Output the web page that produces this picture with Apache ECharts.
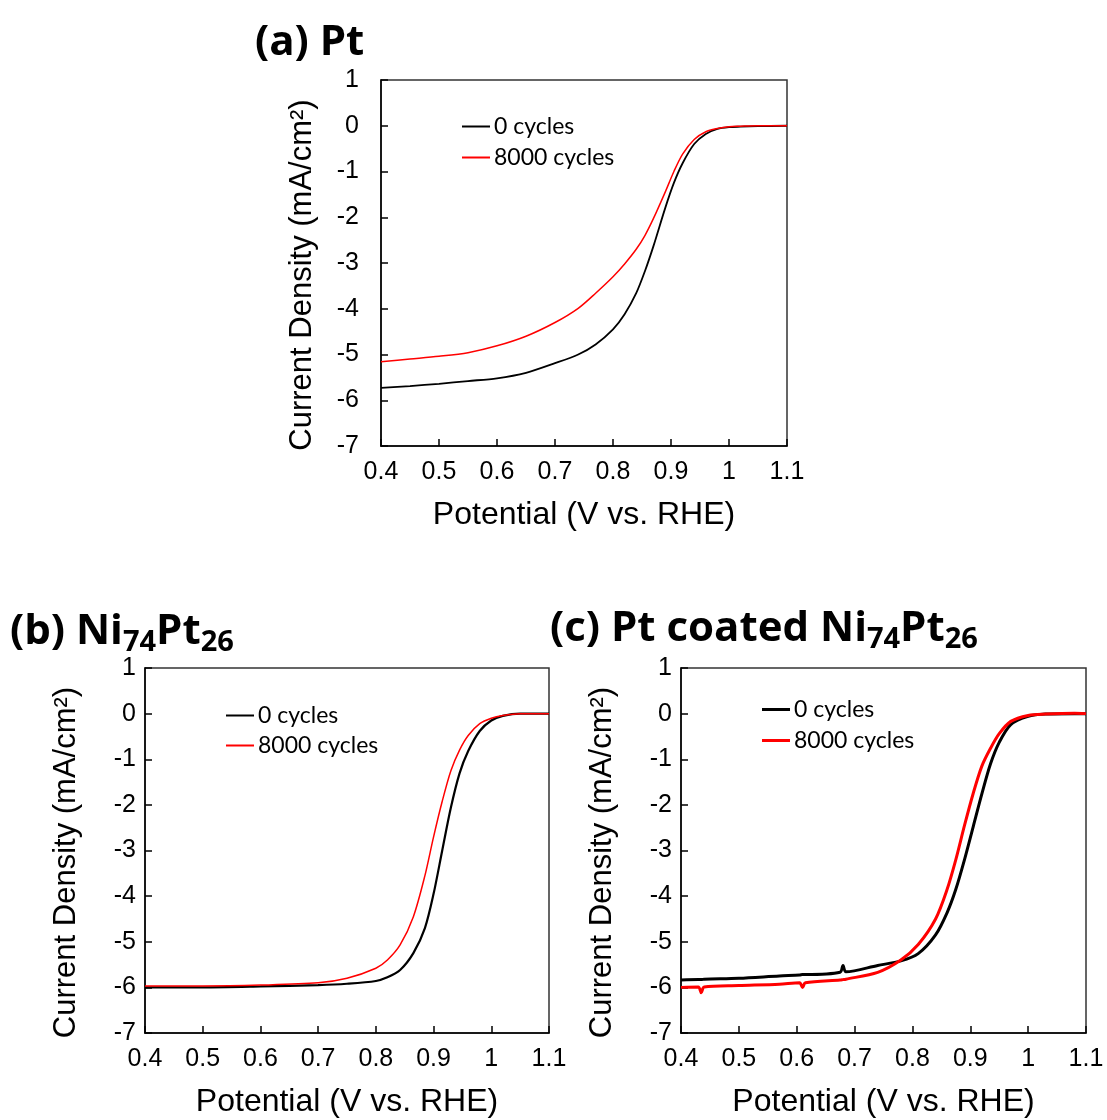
<!DOCTYPE html>
<html>
<head>
<meta charset="utf-8">
<script src="https://cdn.jsdelivr.net/npm/echarts@6/dist/echarts.min.js"></script>
<style>
  html, body { margin: 0; padding: 0; background: #fff; }
  .demo { width: 1107px; height: 1120px; }
</style>
</head>
<body>
<div class="demo"></div>
<script>
// potentials (V vs. RHE) and current densities (mA/cm2)
const ptV = [0.4, 0.45, 0.5, 0.55, 0.6, 0.65, 0.7, 0.74, 0.77, 0.8, 0.82, 0.84, 0.855, 0.87, 0.89, 0.905, 0.92, 0.94, 0.96, 0.98, 1.0, 1.02, 1.05, 1.1]
const ptCycle0 = [-5.73, -5.69, -5.64, -5.58, -5.52, -5.40, -5.19, -5.00, -4.78, -4.45, -4.12, -3.66, -3.18, -2.62, -1.80, -1.25, -0.82, -0.40, -0.18, -0.07, -0.03, -0.02, -0.01, 0]
const ptCycle8000 = [-5.16, -5.10, -5.04, -4.96, -4.81, -4.60, -4.30, -3.99, -3.66, -3.30, -3.02, -2.70, -2.40, -2.02, -1.45, -1.00, -0.62, -0.30, -0.13, -0.06, -0.02, -0.01, 0, 0]

const niptV = [0.4, 0.5, 0.6, 0.7, 0.75, 0.8, 0.82, 0.842, 0.865, 0.885, 0.9, 0.915, 0.93, 0.945, 0.96, 0.98, 1.0, 1.02, 1.05, 1.1]
const niptCycle0 = [-6.0, -6.0, -5.98, -5.95, -5.92, -5.86, -5.78, -5.62, -5.25, -4.70, -3.95, -3.00, -2.06, -1.31, -0.82, -0.38, -0.15, -0.05, 0, 0]
const niptCycle8000 = [-5.97, -5.97, -5.95, -5.90, -5.80, -5.58, -5.40, -5.07, -4.45, -3.55, -2.70, -1.92, -1.25, -0.80, -0.48, -0.22, -0.10, -0.04, 0, 0]

const coatV = [0.4, 0.43, 0.435, 0.44, 0.5, 0.57, 0.605, 0.61, 0.615, 0.675, 0.68, 0.685, 0.74, 0.78, 0.81, 0.84, 0.86, 0.875, 0.89, 0.905, 0.92, 0.935, 0.95, 0.97, 1.0, 1.03, 1.08, 1.1]
const coatCycle0 = [-5.84, -5.83, -5.83, -5.82, -5.80, -5.75, -5.73, -5.72, -5.72, -5.67, -5.52, -5.66, -5.52, -5.42, -5.26, -4.85, -4.36, -3.85, -3.20, -2.48, -1.76, -1.10, -0.63, -0.24, -0.06, -0.01, 0, 0]
const coatCycle8000 = [-6.0, -5.99, -6.12, -5.99, -5.96, -5.93, -5.90, -6.0, -5.90, -5.84, -5.83, -5.82, -5.67, -5.40, -5.06, -4.50, -3.85, -3.20, -2.45, -1.75, -1.15, -0.76, -0.44, -0.17, -0.04, -0.01, 0.01, 0]

const xTicks = { min: 0.4, max: 1.1, interval: 0.1 }
const yTicks = { min: -7, max: 1, interval: 1 }

const zip = (xs, ys) => xs.map((x, i) => [x, ys[i]])

const chartinstance = echarts.init(document.querySelector('.demo'))

const tickFont = { fontFamily: 'Liberation Sans', fontSize: 25, color: '#000' }

function xAxisFor(idx) {
  return {
    type: 'value', gridIndex: idx,
    min: xTicks.min, max: xTicks.max, interval: xTicks.interval,
    name: 'Potential (V vs. RHE)', nameLocation: 'middle', nameGap: 53,
    nameTextStyle: { fontFamily: 'Liberation Sans', fontSize: 32, color: '#000' },
    axisLine: { show: true, onZero: false, lineStyle: { color: '#000', width: 1.5 } },
    axisTick: { show: true, inside: true, length: 7, lineStyle: { color: '#000', width: 1.5 } },
    axisLabel: Object.assign({ margin: 14 }, tickFont),
    splitLine: { show: false }
  }
}
function yAxisFor(idx, margin) {
  return {
    type: 'value', gridIndex: idx,
    min: yTicks.min, max: yTicks.max, interval: yTicks.interval,
    name: 'Current Density (mA/cm²)', nameLocation: 'middle', nameGap: 63,
    nameTextStyle: { fontFamily: 'Liberation Sans', fontSize: 31, color: '#000', padding: [0, 24, 0, 0] },
    axisLine: { show: true, onZero: false, lineStyle: { color: '#000', width: 1.5 } },
    axisTick: { show: true, inside: true, length: 7, lineStyle: { color: '#000', width: 1.5 } },
    axisLabel: Object.assign({ margin: margin }, tickFont),
    splitLine: { show: false }
  }
}
function lineSeries(name, idx, data, color, width) {
  return {
    name: name, type: 'line', xAxisIndex: idx, yAxisIndex: idx,
    data: data, showSymbol: false, smooth: 0.3,
    lineStyle: { color: color, width: width }, itemStyle: { color: color },
    emphasis: { disabled: true }, animation: false
  }
}
function legendFor(left, top, h, gap) {
  return {
    orient: 'vertical', left: left, top: top, padding: 0,
    itemWidth: 28, itemHeight: h, itemGap: gap, icon: 'rect',
    data: ['0 cycles', '8000 cycles'],
    textStyle: { fontFamily: 'Lato', fontSize: 23, color: '#000', padding: [0, 0, 0, -1] }
  }
}
const titleRich = {
  m: { fontFamily: 'Open Sans', fontWeight: 'bold', fontSize: 42, color: '#000', lineHeight: 46, verticalAlign: 'top' },
  s: { fontFamily: 'Open Sans', fontWeight: 'bold', fontSize: 29, color: '#000', lineHeight: 18, verticalAlign: 'bottom' }
}

const option = {
  backgroundColor: '#fff',
  animation: false,
  title: [
    { text: '{m|(a) Pt}', left: 255, top: 22, padding: 0, textStyle: { rich: titleRich } },
    { text: '{m|(b) Ni}{s|74}{m|Pt}{s|26}', left: 10, top: 611, padding: 0, textStyle: { rich: titleRich } },
    { text: '{m|(c) Pt coated Ni}{s|74}{m|Pt}{s|26}', left: 550, top: 608, padding: 0, textStyle: { rich: titleRich } }
  ],
  legend: [
    legendFor(462, 115, 2, 8),
    legendFor(226, 704, 2, 7),
    legendFor(762, 698, 3, 8)
  ],
  grid: [
    { left: 381, top: 80, width: 406, height: 366, show: true, borderColor: '#333', borderWidth: 1.5, backgroundColor: 'transparent' },
    { left: 145, top: 668, width: 404, height: 365, show: true, borderColor: '#333', borderWidth: 1.5, backgroundColor: 'transparent' },
    { left: 681, top: 668, width: 405, height: 365, show: true, borderColor: '#333', borderWidth: 1.5, backgroundColor: 'transparent' }
  ],
  xAxis: [xAxisFor(0), xAxisFor(1), xAxisFor(2)],
  yAxis: [yAxisFor(0, 22), yAxisFor(1, 9), yAxisFor(2, 9)],
  series: [
    lineSeries('0 cycles', 0, zip(ptV, ptCycle0), '#000', 1.8),
    lineSeries('8000 cycles', 0, zip(ptV, ptCycle8000), '#ff0000', 1.5),
    lineSeries('0 cycles', 1, zip(niptV, niptCycle0), '#000', 2.2),
    lineSeries('8000 cycles', 1, zip(niptV, niptCycle8000), '#ff0000', 1.5),
    lineSeries('0 cycles', 2, zip(coatV, coatCycle0), '#000', 3),
    lineSeries('8000 cycles', 2, zip(coatV, coatCycle8000), '#ff0000', 3)
  ]
}
option && chartinstance.setOption(option)
window.addEventListener('resize', () => {
  chartinstance.resize()
})
</script>
</body>
</html>
